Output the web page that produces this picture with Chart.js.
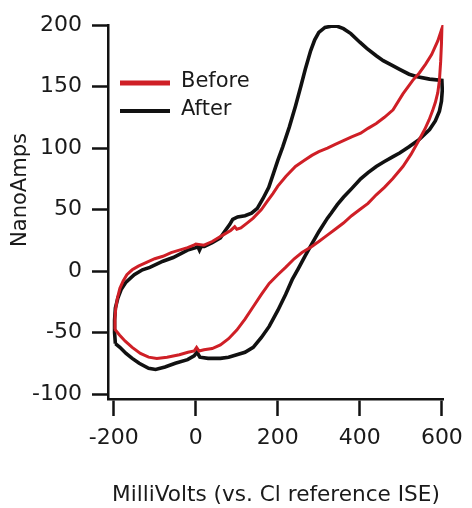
<!DOCTYPE html>
<html><head><meta charset="utf-8">
<script src="https://cdn.jsdelivr.net/npm/chart.js@4"></script>
<style>html,body{margin:0;padding:0;background:#fff;}</style>
</head><body>
<canvas id="c" width="472" height="508"></canvas>
<script>
const seriesLabels = ['Before', 'After'];
const xTicks = [-200, 0, 200, 400, 600];
const yTicks = [-100, -50, 0, 50, 100, 150, 200];
const xTitle = 'MilliVolts (vs. Cl reference ISE)';
const yTitle = 'NanoAmps';

const beforeX = [-198,-197,-195,-191,-185,-177,-168,-155,-140,-120,-100,-80,-60,-40,-20,-5,0,20,40,55,70,85,95,100,110,125,140,160,175,188,200,220,243,265,283,300,321,340,360,380,402,420,440,460,481,505,529,545,560,575,590,600,
  599,597,594,590,584,577,569,558,545,525,505,480,460,440,420,400,380,360,340,320,300,283,259,240,219,200,179,160,140,120,100,80,60,40,20,8,2,-4,-19,-40,-70,-95,-115,-135,-155,-172,-186,-198];
const beforeY = [-47,-38,-30,-22,-14,-8,-3,1,4,7,10,12,15,17,19,21,22,21,24,27,30,33,36,34,35,39,43,50,57,63,69,77,85,90,94,97,100,103,106,109,112,116,120,125,131,144,155,161,168,176,187,197,
  185,170,155,145,137,130,123,115,107,95,85,75,68,62,55,50,45,39,34,29,24,20,15,10,3,-3,-10,-19,-29,-39,-48,-55,-60,-63,-64,-65,-62,-65,-66,-68,-70,-71,-70,-67,-62,-57,-52,-47];

const afterX = [-196,-198,-198,-196,-190,-182,-170,-150,-130,-112,-80,-55,-20,0,5,9,13,21,40,60,70,83,90,102,120,136,150,164,178,188,200,212,228,243,256,267,280,290,300,315,330,345,360,378,400,417,440,457,480,497,520,540,570,600,
  601,599,594,584,570,545,520,497,481,460,440,420,402,380,360,345,330,321,300,283,266,250,235,219,200,179,160,140,120,100,80,60,30,10,3,-4,-20,-50,-75,-98,-115,-138,-155,-170,-185,-196];
const afterY = [-59,-50,-40,-30,-22,-15,-9,-3,1,3,8,11,17,19,20,17,20,20,23,27,32,38,42,44,45,47,51,59,68,78,90,101,117,134,150,164,179,188,194,198,199,199,197,193,186,181,175,171,167,164,160,158,156,155,
  147,138,130,122,115,107,101,96,93,89,85,80,75,67,60,54,47,43,32,22,12,2,-7,-19,-32,-45,-54,-62,-66,-68,-70,-71,-71,-70,-66,-69,-72,-75,-78,-80,-79,-75,-71,-67,-62,-59];

const toPts = (xs, ys) => xs.map((x, i) => ({x: x, y: ys[i]}));

const FONT = 'DejaVu Sans';
const TXT = '#1a1a1a';

const insideLegend = {
  id: 'insideLegend',
  afterDatasetsDraw(chart) {
    const ctx = chart.ctx;
    const rows = [{y: 83, w: 5}, {y: 111, w: 4}];
    chart.data.datasets.forEach((ds, i) => {
      const r = rows[i];
      ctx.save();
      ctx.strokeStyle = ds.borderColor;
      ctx.lineWidth = r.w;
      ctx.beginPath();
      ctx.moveTo(120, r.y);
      ctx.lineTo(170, r.y);
      ctx.stroke();
      ctx.fillStyle = TXT;
      ctx.font = '21px "' + FONT + '"';
      ctx.textAlign = 'left';
      ctx.textBaseline = 'middle';
      ctx.fillText(ds.label, 181, r.y - 1);
      ctx.restore();
    });
  }
};

const yTitlePlugin = {
  id: 'yTitlePlugin',
  afterDraw(chart) {
    const ctx = chart.ctx;
    ctx.save();
    ctx.translate(21, 190);
    ctx.rotate(-Math.PI / 2);
    ctx.fillStyle = TXT;
    ctx.font = '21px "' + FONT + '"';
    ctx.textAlign = 'center';
    ctx.textBaseline = 'middle';
    ctx.fillText(yTitle, 0, 0);
    ctx.restore();
  }
};

new Chart(document.getElementById('c'), {
  type: 'scatter',
  data: {
    datasets: [
      {label: seriesLabels[0], data: toPts(beforeX, beforeY), showLine: true, borderColor: '#cf1f26', borderWidth: 3, pointRadius: 0, tension: 0, fill: false},
      {label: seriesLabels[1], data: toPts(afterX, afterY), showLine: true, borderColor: '#111111', borderWidth: 3.6, pointRadius: 0, tension: 0, fill: false}
    ]
  },
  options: {
    responsive: false,
    animation: false,
    devicePixelRatio: 1,
    layout: {padding: {left: 0, right: 21, top: 25, bottom: 0}},
    plugins: {legend: {display: false}, tooltip: {enabled: false}},
    scales: {
      x: {
        type: 'linear', min: -214, max: 605,
        afterBuildTicks: s => { s.ticks = xTicks.map(v => ({value: v})); },
        afterFit: s => { s.height = 109; },
        grid: {drawOnChartArea: false, drawTicks: true, tickLength: 17, tickColor: '#111', tickWidth: 2.5},
        border: {display: true, color: '#111', width: 2.5},
        ticks: {color: TXT, font: {family: FONT, size: 22}, padding: 9, maxRotation: 0, autoSkip: false},
        title: {display: true, text: xTitle, color: TXT, font: {family: FONT, size: 21.6}, padding: {top: 0, bottom: 0}}
      },
      y: {
        type: 'linear', min: -104, max: 200,
        afterBuildTicks: s => { s.ticks = yTicks.map(v => ({value: v})); },
        afterFit: s => { s.width = 108; },
        grid: {drawOnChartArea: false, drawTicks: true, tickLength: 16, tickColor: '#111', tickWidth: 2.5},
        border: {display: true, color: '#111', width: 2.5},
        ticks: {color: TXT, font: {family: FONT, size: 22}, padding: 10, autoSkip: false},
        title: {display: false, text: yTitle}
      }
    }
  },
  plugins: [insideLegend, yTitlePlugin]
});
</script>
</body></html>
